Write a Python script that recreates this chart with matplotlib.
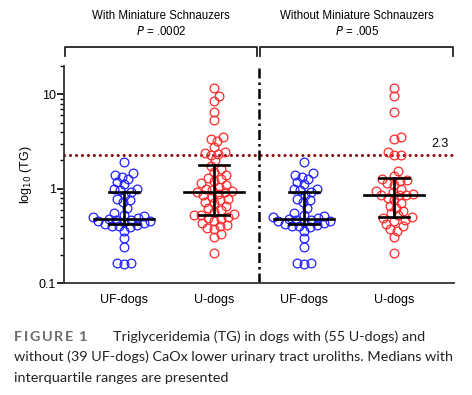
import numpy as np
import matplotlib.pyplot as plt

plt.rcParams['font.family'] = ['Liberation Sans', 'DejaVu Sans']

# data (TG, mmol/L, log scale)
group_labels = ["UF-dogs", "U-dogs", "UF-dogs", "U-dogs"]

uf_dogs = [1.93, 1.46, 1.38, 1.34, 1.28, 1.17, 1.12, 1.0, 0.99, 0.97,
           0.92, 0.85, 0.78, 0.75, 0.72, 0.62, 0.55, 0.53, 0.51,
           0.48,
           0.50, 0.49, 0.47, 0.47, 0.46, 0.45, 0.44, 0.43, 0.42,
           0.41, 0.40, 0.40, 0.39, 0.36, 0.30, 0.24, 0.165, 0.158, 0.165]

u_dogs_with_ms = [11.8, 9.7, 8.6, 6.5, 5.3, 3.5, 3.4, 3.2, 2.75, 2.45, 2.4, 2.35, 2.3, 2.0,
                  1.75, 1.6, 1.5, 1.4, 1.3, 1.28, 1.2, 1.14, 1.1, 1.05, 1.0, 0.98, 0.95,
                  0.93,
                  0.92, 0.88, 0.85, 0.82, 0.78, 0.75, 0.72, 0.7, 0.66, 0.62, 0.6, 0.57, 0.54,
                  0.53, 0.52, 0.5, 0.49, 0.48, 0.46, 0.43, 0.41, 0.4, 0.38, 0.37, 0.33, 0.31, 0.21]

u_dogs_without_ms = [11.8, 9.7, 6.5, 3.5, 3.4, 2.45, 2.3, 2.25, 1.55, 1.35,
                     1.28, 1.25, 1.2, 1.15, 1.1, 1.0, 0.95, 0.92, 0.88,
                     0.86, 0.86,
                     0.85, 0.8, 0.75, 0.7, 0.66, 0.62, 0.58, 0.55, 0.52,
                     0.5, 0.49, 0.47, 0.45, 0.42, 0.4, 0.37, 0.36, 0.31, 0.21]

group_values = [uf_dogs, u_dogs_with_ms, uf_dogs, u_dogs_without_ms]
group_colors = ["#2020ff", "#ff2a2a", "#2020ff", "#ff2a2a"]

medians = [0.48, 0.93, 0.48, 0.86]
q1 = [0.42, 0.53, 0.42, 0.50]
q3 = [0.93, 1.78, 0.93, 1.29]

panel_titles = ["With Miniature Schnauzers", "Without Miniature Schnauzers"]
panel_p = [".0002", ".005"]
cutoff = 2.3


def swarm_offsets(values, diam_px=7.0, px_per_decade=95.0, px_per_unit=90.0):
    # simple beeswarm: put each point as close to the centre as it fits
    ys = np.log10(values) * px_per_decade
    xs = np.zeros(len(values))
    placed = []
    for i in np.argsort(ys):
        y = ys[i]
        cands = [0.0]
        for px, py in placed:
            dy = y - py
            if abs(dy) < diam_px:
                dx = np.sqrt(diam_px ** 2 - dy ** 2)
                cands += [px + dx, px - dx]
        cands.sort(key=abs)
        for c in cands:
            if all((c - px) ** 2 + (y - py) ** 2 >= diam_px ** 2 - 1e-6 for px, py in placed):
                xs[i] = c
                break
        placed.append((xs[i], y))
    return xs / px_per_unit


fig = plt.figure(figsize=(4.72, 3.95), dpi=100)
ax = fig.add_axes([0.1356, 0.2835, 0.8264, 0.5495])

for i, (vals, col) in enumerate(zip(group_values, group_colors)):
    offs = swarm_offsets(vals)
    ax.plot(i + offs, vals, 'o', ms=6.3, mfc='none', mec=col, mew=0.9, zorder=3)
    ax.plot([i - 0.33, i + 0.33], [medians[i]] * 2, color='k', lw=1.9, zorder=4)
    ax.plot([i - 0.17, i + 0.17], [q1[i]] * 2, color='k', lw=1.9, zorder=4)
    ax.plot([i - 0.17, i + 0.17], [q3[i]] * 2, color='k', lw=1.9, zorder=4)
    ax.plot([i, i], [q1[i], q3[i]], color='k', lw=1.9, zorder=4)

ax.axhline(cutoff, color='#8b1010', lw=2.2, ls=(0, (0.05, 1.9)),
           dash_capstyle='round', zorder=2)
ax.text(3.51, 3.0, f"{cutoff}", ha='center', va='center', fontsize=9)
ax.axvline(1.5, color='k', lw=1.8, ls=(0, (4, 1.6, 1, 1.6)), zorder=2)

ax.set_yscale('log')
ax.set_ylim(0.1, 20)
ax.set_xlim(-0.667, 3.667)
ax.set_yticks([0.1, 1, 10])
ax.set_yticklabels(["0.1", "1", "10"])
ax.set_xticks(range(4))
ax.set_xticklabels(group_labels)
ax.tick_params(axis='x', length=0, pad=8, labelsize=9)
ax.tick_params(axis='y', which='major', length=5, width=1.2, labelsize=9, pad=1)
ax.tick_params(axis='y', which='minor', length=3, width=1.0)
for side in ['top', 'right']:
    ax.spines[side].set_visible(False)
for side in ['left', 'bottom']:
    ax.spines[side].set_linewidth(1.3)
    ax.spines[side].set_color('#333333')
ax.set_ylabel(r"log$_{10}$ (TG)", fontsize=9, labelpad=3)

# brackets and panel titles above the plot
tr = ax.get_xaxis_transform()
brackets = [(-0.656, 1.478), (1.511, 3.656)]
for (x0, x1), title, p in zip(brackets, panel_titles, panel_p):
    ax.plot([x0, x0, x1, x1], [1.046, 1.088, 1.088, 1.046], color='#222222',
            lw=1.3, transform=tr, clip_on=False)
    xc = (x0 + x1) / 2
    ax.text(xc, 1.23, title, transform=tr, ha='center', va='center', fontsize=8.3)
    ax.text(xc, 1.161, r"$\it{P}$ = " + p, transform=tr, ha='center', va='center', fontsize=8.3)

# caption; "FIGURE 1" is letter-spaced, so set it one glyph at a time
renderer = fig.canvas.get_renderer()
x_px = 14.0
y_cap = 1 - 337 / 395
for ch in "FIGURE 1":
    t = fig.text(x_px / 472, y_cap, ch, family='Lato', weight='bold',
                 color='#6a6a6a', fontsize=10.4, va='center')
    x_px += t.get_window_extent(renderer).width + 1.6

cap_lines = ["Triglyceridemia (TG) in dogs with (55 U-dogs) and",
             "without (39 UF-dogs) CaOx lower urinary tract uroliths. Medians with",
             "interquartile ranges are presented"]
fig.text(113 / 472, y_cap, cap_lines[0], family='Lato', fontsize=10.4,
         color='#222222', va='center')
fig.text(14 / 472, 1 - 357 / 395, cap_lines[1], family='Lato', fontsize=10.4,
         color='#222222', va='center')
fig.text(14 / 472, 1 - 378 / 395, cap_lines[2], family='Lato', fontsize=10.4,
         color='#222222', va='center')

fig.savefig("out.png", dpi=100)
